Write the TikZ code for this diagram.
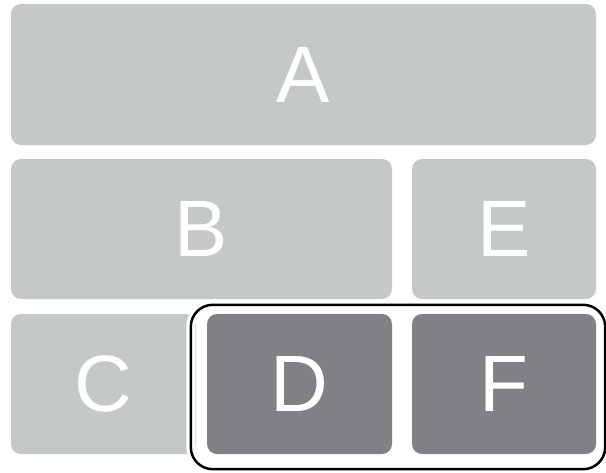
\documentclass[tikz,border=0pt]{standalone}
\usepackage{fontspec}
\setmainfont{Liberation Sans}
\definecolor{tilelight}{HTML}{C5C8C9}
\definecolor{tiledark}{HTML}{808184}
\tikzset{
  tile/.style={rectangle, rounded corners=10pt, fill=tilelight, draw=none,
    text=white, font=\fontsize{80}{80}\selectfont, inner sep=0pt},
  darktile/.style={tile, fill=tiledark},
  groupframe/.style={draw=black, line width=2.5pt, rounded corners=22pt,
    preaction={draw=white, line width=9pt}}
}
\begin{document}
\begin{tikzpicture}[x=1pt,y=-1pt]
  \useasboundingbox[fill=white] (0,0) rectangle (606,472);
  % Top row
  \node[tile, minimum width=585pt, minimum height=141pt] (A) at (303.5,74.5) {A};
  % Middle row
  \node[tile, minimum width=381pt, minimum height=140pt] (B) at (201.5,229) {B};
  \node[tile, minimum width=184pt, minimum height=140pt] (E) at (504,229) {E};
  % Bottom row
  \node[tile, minimum width=185pt, minimum height=140pt] (C) at (103.5,384) {C};
  \node[darktile, minimum width=185pt, minimum height=140pt] (D) at (299.5,384) {D};
  \node[darktile, minimum width=184pt, minimum height=140pt] (F) at (504,384) {F};
  % Frame round D and F
  \draw[groupframe] ([xshift=-16pt,yshift=9pt]D.north west) rectangle ([xshift=9pt,yshift=-15pt]F.south east);
\end{tikzpicture}
\end{document}
